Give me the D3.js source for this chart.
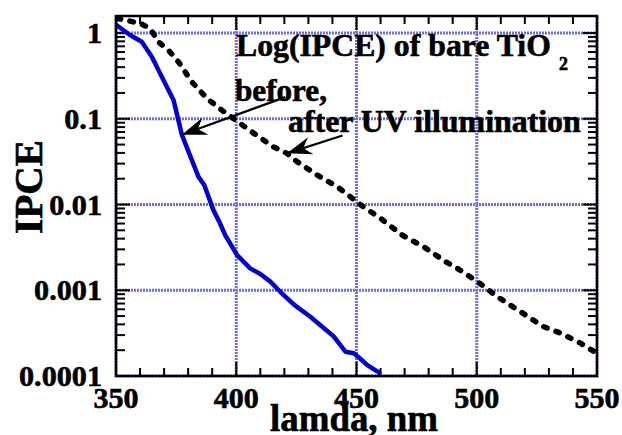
<!DOCTYPE html>
<html>
<head>
<meta charset="utf-8">
<script src="https://cdn.jsdelivr.net/npm/d3@7"></script>
<style>
  body { margin: 0; background: #fff; }
  svg { display: block; }
  text { font-family: "Liberation Serif", "Times New Roman", serif; font-weight: bold; fill: #000; stroke: #000; stroke-width: 0.6; }
</style>
</head>
<body>
<div id="chart"></div>
<script>
// before UV illumination (blue solid)
const beforeNm = [350, 355.8, 360.7, 364.9, 368.3, 373.9, 377.4, 384.3, 386.7, 390.5, 393.3, 395.4, 400.3, 405.8, 410, 414.2, 418.3, 424, 430.8, 435.5, 440.5, 445.4, 448.9, 451.5, 454.5, 459.3, 460];
const beforeIpce = [1.25, 0.95, 0.79, 0.53, 0.34, 0.166, 0.065, 0.021, 0.0169, 0.0086, 0.006, 0.0044, 0.00258, 0.0018, 0.00155, 0.00126, 0.00096, 0.00068, 0.00049, 0.00038, 0.00029, 0.000192, 0.000184, 0.00016, 0.000134, 0.00011, 0.000105];

// after UV illumination (black dotted)
const afterNm = [350.5, 360, 364.2, 367.6, 371.8, 376, 381.5, 387.8, 394, 399.6, 407.2, 415.5, 421.1, 425.3, 433.6, 442, 447.5, 451.7, 460, 469, 478, 487.1, 491.3, 500.3, 508.6, 518.3, 527.4, 535, 543.3, 548.9, 550];
const afterIpce = [1.48, 1.30, 1.13, 0.79, 0.63, 0.46, 0.27, 0.173, 0.126, 0.097, 0.068, 0.047, 0.0395, 0.0316, 0.0221, 0.0161, 0.0123, 0.0099, 0.0069, 0.0044, 0.0032, 0.00215, 0.00185, 0.00126, 0.00084, 0.00056, 0.00038, 0.000315, 0.00024, 0.000192, 0.00018];

const xTicks = [350, 400, 450, 500, 550];
const yTicks = [1, 0.1, 0.01, 0.001, 0.0001];
const yTickLabels = ["1", "0.1", "0.01", "0.001", "0.0001"];

const W = 622, H = 435;
const plot = { left: 116, right: 597, top: 16, bottom: 376 };

const x = d3.scaleLinear().domain([350, 550]).range([plot.left, plot.right]);
const y = d3.scaleLog().domain([1e-4, 1.58]).range([plot.bottom, plot.top]);

const svg = d3.select('#chart').append('svg')
  .attr('width', W)
  .attr('height', H);

// scale font so that a text gets the width seen in the picture
const fitWidth = (sel, width) => {
  const base = +sel.attr('font-size');
  const w = sel.node().getComputedTextLength();
  if (w > 0) sel.attr('font-size', base * width / w);
  return sel;
};

const defs = svg.append('defs');
defs.append('clipPath').attr('id', 'clip')
  .append('rect')
  .attr('x', plot.left).attr('y', plot.top)
  .attr('width', plot.right - plot.left).attr('height', plot.bottom - plot.top);

defs.append('marker')
  .attr('id', 'head')
  .attr('markerUnits', 'userSpaceOnUse')
  .attr('viewBox', '-26 -11 28 22')
  .attr('refX', 0).attr('refY', 0)
  .attr('markerWidth', 28).attr('markerHeight', 22)
  .attr('orient', 'auto')
  .append('path')
  .attr('d', 'M0,0 L-25,-9 L-17,0 L-25,9 Z')
  .attr('fill', '#000');

// ****************** grid ***************************
const grid = svg.append('g');
grid.selectAll('line.gx')
  .data(xTicks)
  .join('line')
  .attr('x1', d => x(d)).attr('x2', d => x(d))
  .attr('y1', plot.top).attr('y2', plot.bottom + 1)
  .attr('stroke', '#6e6eea').attr('stroke-width', 3).attr('stroke-dasharray', '2 1');
grid.selectAll('line.gy')
  .data(yTicks)
  .join('line')
  .attr('y1', d => y(d)).attr('y2', d => y(d))
  .attr('x1', plot.left).attr('x2', plot.right + 1)
  .attr('stroke', '#6e6eea').attr('stroke-width', 3).attr('stroke-dasharray', '2 1');

// ****************** ticks ***************************
const ticks = svg.append('g').attr('stroke', '#000').attr('stroke-width', 2);
const xMinor = d3.range(350, 551, 10);
xMinor.forEach(v => {
  const len = v % 50 === 0 ? 14 : 8;
  ticks.append('line').attr('x1', x(v)).attr('x2', x(v)).attr('y1', plot.bottom).attr('y2', plot.bottom - len);
  ticks.append('line').attr('x1', x(v)).attr('x2', x(v)).attr('y1', plot.top).attr('y2', plot.top + len);
});
const yMinor = [];
[1e-4, 1e-3, 1e-2, 1e-1, 1].forEach(dec => {
  for (let m = 1; m <= 9; m++) {
    const v = dec * m;
    if (v <= 1.58) yMinor.push({ v, major: m === 1 });
  }
});
yMinor.forEach(t => {
  const len = t.major ? 14 : 9;
  ticks.append('line').attr('y1', y(t.v)).attr('y2', y(t.v)).attr('x1', plot.left).attr('x2', plot.left + len);
  ticks.append('line').attr('y1', y(t.v)).attr('y2', y(t.v)).attr('x1', plot.right).attr('x2', plot.right - len);
});

// ****************** curves ***************************
const line = d3.line().x(d => x(d[0])).y(d => y(d[1]));
const curves = svg.append('g').attr('clip-path', 'url(#clip)');

curves.append('path')
  .attr('d', line(d3.zip(beforeNm, beforeIpce)))
  .attr('fill', 'none')
  .attr('stroke', '#0000d0')
  .attr('stroke-width', 4.5)
  .attr('stroke-linejoin', 'round');

curves.append('path')
  .attr('d', line(d3.zip(afterNm, afterIpce)))
  .attr('fill', 'none')
  .attr('stroke', '#000')
  .attr('stroke-width', 5.5)
  .attr('stroke-linecap', 'round')
  .attr('stroke-dasharray', '3.5 9.5');

// frame
svg.append('rect')
  .attr('x', plot.left).attr('y', plot.top)
  .attr('width', plot.right - plot.left).attr('height', plot.bottom - plot.top)
  .attr('fill', 'none').attr('stroke', '#000').attr('stroke-width', 2.5);

// ****************** labels ***************************
const xl = svg.selectAll('text.xl')
  .data(xTicks)
  .join('text')
  .attr('class', 'xl')
  .attr('x', d => x(d)).attr('y', 408)
  .attr('text-anchor', 'middle')
  .attr('font-size', 30)
  .text(d => d);
const xSize = 30 * 45 / xl.node().getComputedTextLength();
xl.attr('font-size', xSize);

const yl = svg.selectAll('text.yl')
  .data(yTicks)
  .join('text')
  .attr('class', 'yl')
  .attr('x', 102).attr('y', d => y(d) + 10)
  .attr('text-anchor', 'end')
  .attr('font-size', 30)
  .text((d, i) => yTickLabels[i]);
const ySize = 30 * 83 / yl.filter((d, i) => i === 4).node().getComputedTextLength();
yl.attr('font-size', ySize);

fitWidth(svg.append('text')
  .attr('x', 354).attr('y', 431)
  .attr('text-anchor', 'middle')
  .attr('font-size', 37)
  .text('lamda, nm'), 168);

fitWidth(svg.append('text')
  .attr('transform', 'translate(42,187) rotate(-90)')
  .attr('text-anchor', 'middle')
  .attr('font-size', 39)
  .text('IPCE'), 94);

// ****************** annotations ***************************
const title = svg.append('text').attr('x', 236).attr('y', 56).attr('font-size', 30);
const titleMain = title.append('tspan').text('Log(IPCE) of bare TiO');
const tSize = 30 * 315 / titleMain.node().getComputedTextLength();
title.attr('font-size', tSize);
title.append('tspan').attr('dx', 8).attr('dy', 14).attr('font-size', 18).text('2');

fitWidth(svg.append('text').attr('x', 235).attr('y', 101).attr('font-size', 30).text('before,'), 92);
fitWidth(svg.append('text').attr('x', 288).attr('y', 132).attr('font-size', 30).text('after UV illumination'), 293);

const arrows = [
  { from: [420.4, 0.179], to: [377.4, 0.065] },
  { from: [444.2, 0.0638], to: [421.1, 0.0395] }
];
svg.selectAll('line.arrow')
  .data(arrows)
  .join('line')
  .attr('x1', d => x(d.from[0])).attr('y1', d => y(d.from[1]))
  .attr('x2', d => x(d.to[0])).attr('y2', d => y(d.to[1]))
  .attr('stroke', '#000').attr('stroke-width', 2.2)
  .attr('marker-end', 'url(#head)');
</script>
</body>
</html>
